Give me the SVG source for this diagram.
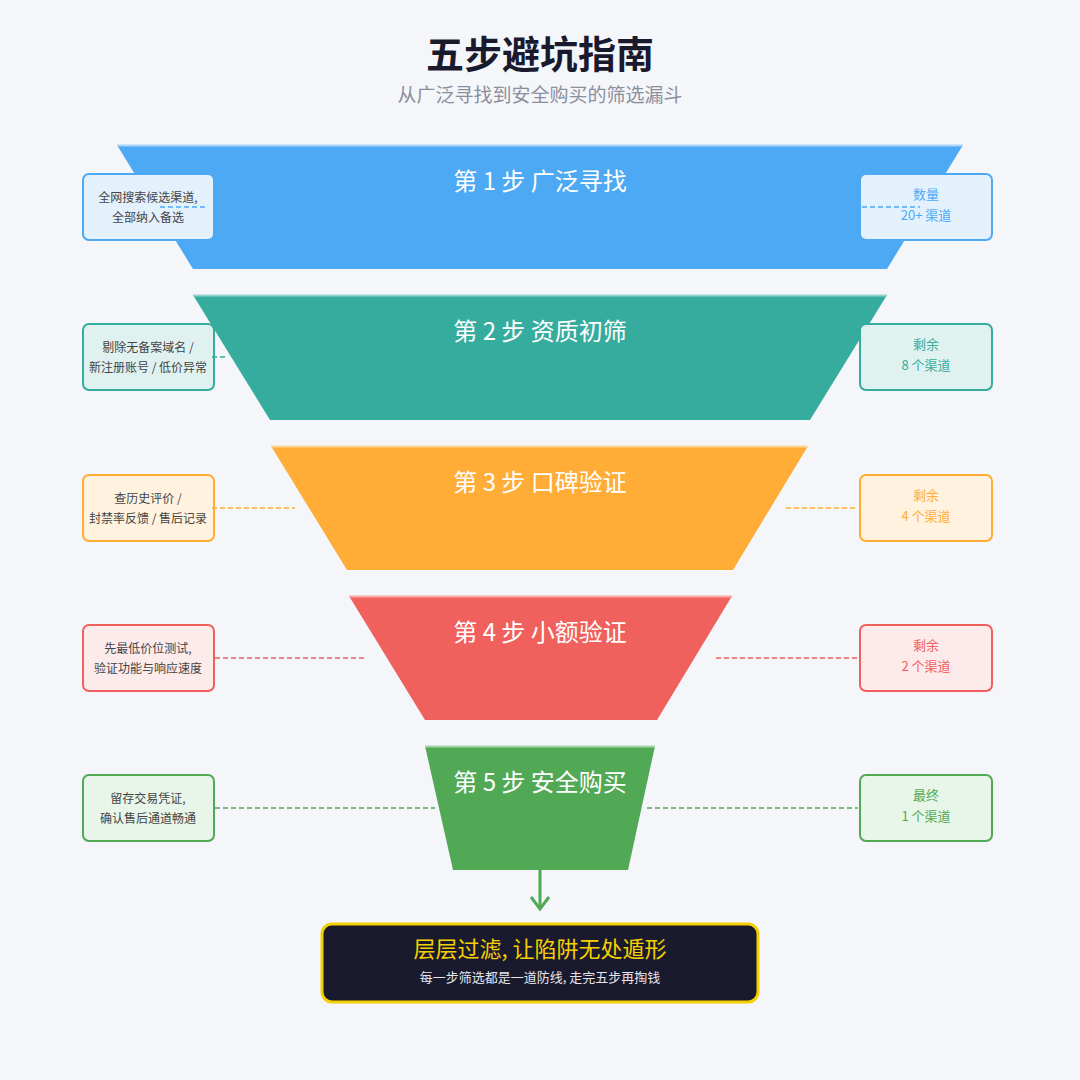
<svg xmlns="http://www.w3.org/2000/svg" width="1080" height="1080" viewBox="0 0 1080 1080">
<style>
text{font-family:"Noto Sans CJK SC","Noto Sans",sans-serif;text-anchor:middle}
.st{fill:#fff;font-size:24px}
.bt{font-size:12px;fill:#444}
.rt{font-size:13px}
.cn{stroke-width:1.3;stroke-dasharray:5 3;fill:none}
</style>
<rect width="1080" height="1080" fill="#f4f6fa"/>
<text x="540" y="68" font-size="38" font-weight="bold" fill="#1a1a2e">五步避坑指南</text>
<text x="540" y="102" font-size="19" fill="#8a8f9c">从广泛寻找到安全购买的筛选漏斗</text>
<g id="step1"><polygon points="117,145 963,145 887,269 193,269" fill="#4da9f4"/><line x1="117" y1="145.5" x2="963" y2="145.5" stroke="#a9d5fa" stroke-width="2"/><text class="st" x="540" y="190">第 1 步  广泛寻找</text></g>
<g id="step2"><polygon points="193,295 887,295 810,420 270,420" fill="#36ac9e"/><line x1="193" y1="295.5" x2="887" y2="295.5" stroke="#93d3cb" stroke-width="2"/><text class="st" x="540" y="340">第 2 步  资质初筛</text></g>
<g id="step3"><polygon points="271,446 808,446 733,570 347,570" fill="#ffad36"/><line x1="271" y1="446.5" x2="808" y2="446.5" stroke="#ffd699" stroke-width="2"/><text class="st" x="540" y="491">第 3 步  口碑验证</text></g>
<g id="step4"><polygon points="349,596 732,596 657,720 425,720" fill="#f0605d"/><line x1="349" y1="596.5" x2="732" y2="596.5" stroke="#f7aaa8" stroke-width="2"/><text class="st" x="540" y="641">第 4 步  小额验证</text></g>
<g id="step5"><polygon points="425,746 655,746 628,870 453,870" fill="#52a955"/><line x1="425" y1="746.5" x2="655" y2="746.5" stroke="#a5d6a7" stroke-width="2"/><text class="st" x="540" y="791">第 5 步  安全购买</text></g>
<g id="notes">
<rect x="83" y="174" width="131" height="66" rx="6" fill="#e3f1fd" stroke="#4da9f4" stroke-width="2"/><text class="bt" x="148" y="202">全网搜索候选渠道,</text><text class="bt" x="148" y="222">全部纳入备选</text>
<rect x="83" y="324" width="131" height="66" rx="6" fill="#e0f2f0" stroke="#36ac9e" stroke-width="2"/><text class="bt" x="148" y="352">剔除无备案域名 /</text><text class="bt" x="148" y="372">新注册账号 / 低价异常</text>
<rect x="83" y="475" width="131" height="66" rx="6" fill="#fff3e0" stroke="#ffad36" stroke-width="2"/><text class="bt" x="148" y="503">查历史评价 /</text><text class="bt" x="148" y="523">封禁率反馈 / 售后记录</text>
<rect x="83" y="625" width="131" height="66" rx="6" fill="#fdeaea" stroke="#f0605d" stroke-width="2"/><text class="bt" x="148" y="653">先最低价位测试,</text><text class="bt" x="148" y="673">验证功能与响应速度</text>
<rect x="83" y="775" width="131" height="66" rx="6" fill="#e8f5e9" stroke="#52a955" stroke-width="2"/><text class="bt" x="148" y="803">留存交易凭证,</text><text class="bt" x="148" y="823">确认售后通道畅通</text>
</g>
<g id="counts">
<rect x="860" y="174" width="132" height="66" rx="6" fill="#e3f1fd" stroke="#4da9f4" stroke-width="2"/><text class="rt" x="926" y="199" fill="#4da9f4">数量</text><text class="rt" x="926" y="220" fill="#4da9f4">20+ 渠道</text>
<rect x="860" y="324" width="132" height="66" rx="6" fill="#e0f2f0" stroke="#36ac9e" stroke-width="2"/><text class="rt" x="926" y="349" fill="#36ac9e">剩余</text><text class="rt" x="926" y="370" fill="#36ac9e">8 个渠道</text>
<rect x="860" y="475" width="132" height="66" rx="6" fill="#fff3e0" stroke="#ffad36" stroke-width="2"/><text class="rt" x="926" y="500" fill="#ffad36">剩余</text><text class="rt" x="926" y="521" fill="#ffad36">4 个渠道</text>
<rect x="860" y="625" width="132" height="66" rx="6" fill="#fdeaea" stroke="#f0605d" stroke-width="2"/><text class="rt" x="926" y="650" fill="#f0605d">剩余</text><text class="rt" x="926" y="671" fill="#f0605d">2 个渠道</text>
<rect x="860" y="775" width="132" height="66" rx="6" fill="#e8f5e9" stroke="#52a955" stroke-width="2"/><text class="rt" x="926" y="800" fill="#52a955">最终</text><text class="rt" x="926" y="821" fill="#52a955">1 个渠道</text>
</g>
<g id="connectors">
<line class="cn" x1="160" y1="207" x2="205" y2="207" stroke="#4da9f4"/>
<line class="cn" x1="862" y1="207" x2="920" y2="207" stroke="#4da9f4"/>
<line class="cn" x1="212" y1="357" x2="227" y2="357" stroke="#36ac9e"/>
<line class="cn" x1="212" y1="508" x2="295" y2="508" stroke="#ffad36"/>
<line class="cn" x1="786" y1="508" x2="858" y2="508" stroke="#ffad36"/>
<line class="cn" x1="215" y1="658" x2="365" y2="658" stroke="#f0605d"/>
<line class="cn" x1="716" y1="658" x2="858" y2="658" stroke="#f0605d"/>
<line class="cn" x1="215" y1="808" x2="435" y2="808" stroke="#52a955"/>
<line class="cn" x1="647" y1="808" x2="858" y2="808" stroke="#52a955"/>
<line x1="540" y1="870" x2="540" y2="908" stroke="#52a955" stroke-width="3"/>
<polyline points="531,897 540,909 549,897" fill="none" stroke="#52a955" stroke-width="3"/>
</g>
<g id="summary">
<rect x="322" y="924" width="436" height="78" rx="10" fill="#1a1a2e" stroke="#f5d000" stroke-width="3"/>
<text x="540" y="957" font-size="22" fill="#f5d000">层层过滤, 让陷阱无处遁形</text>
<text x="540" y="982" font-size="13" fill="#e6e6ee">每一步筛选都是一道防线, 走完五步再掏钱</text>
</g>
</svg>
